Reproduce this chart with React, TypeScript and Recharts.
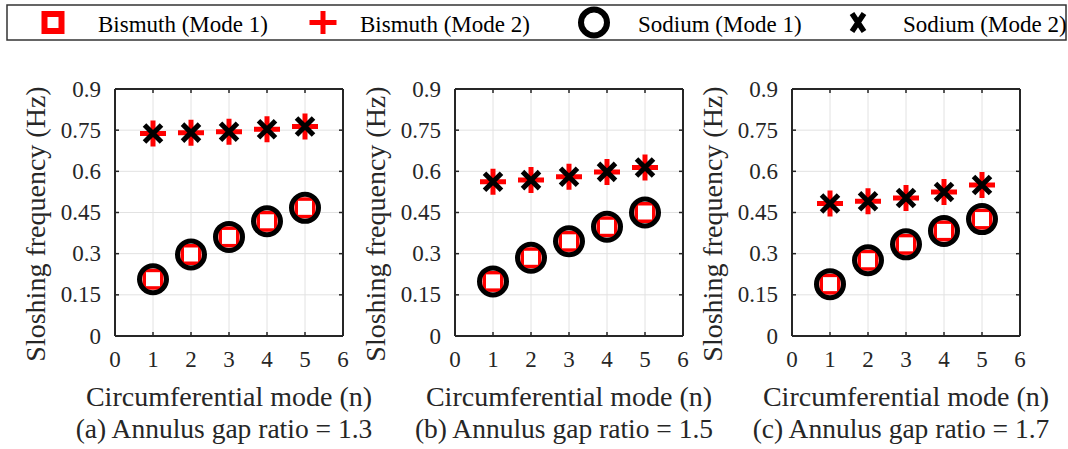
import { ScatterChart, Scatter, XAxis, YAxis, CartesianGrid } from 'recharts';

const FONT = "'Liberation Serif', 'DejaVu Serif', serif";
const INK = '#262626';

// circumferential modes and axis ticks
const modes = [1, 2, 3, 4, 5];
const xTicks = [0, 1, 2, 3, 4, 5, 6];
const yTicks = [0, 0.15, 0.3, 0.45, 0.6, 0.75, 0.9];

// (a) gap ratio 1.3
const bismuthMode1A = [0.207, 0.297, 0.361, 0.418, 0.467];
const bismuthMode2A = [0.738, 0.741, 0.744, 0.753, 0.763];
const sodiumMode1A = [0.207, 0.297, 0.361, 0.418, 0.467];
const sodiumMode2A = [0.738, 0.741, 0.744, 0.753, 0.763];

// (b) gap ratio 1.5
const bismuthMode1B = [0.199, 0.285, 0.345, 0.398, 0.45];
const bismuthMode2B = [0.562, 0.568, 0.58, 0.598, 0.614];
const sodiumMode1B = [0.199, 0.285, 0.345, 0.398, 0.45];
const sodiumMode2B = [0.562, 0.568, 0.58, 0.598, 0.614];

// (c) gap ratio 1.7
const bismuthMode1C = [0.189, 0.276, 0.334, 0.383, 0.426];
const bismuthMode2C = [0.483, 0.491, 0.503, 0.525, 0.55];
const sodiumMode1C = [0.189, 0.276, 0.334, 0.383, 0.426];
const sodiumMode2C = [0.483, 0.491, 0.503, 0.525, 0.55];

const legendNames = ['Bismuth (Mode 1)', 'Bismuth (Mode 2)', 'Sodium (Mode 1)', 'Sodium (Mode 2)'];
const xLabel = 'Circumferential mode (n)';
const yLabel = 'Sloshing frequency (Hz)';
const captions = ['(a) Annulus gap ratio = 1.3', '(b) Annulus gap ratio = 1.5', '(c) Annulus gap ratio = 1.7'];

const toPoints = (vals: number[]) => modes.map((n, i) => ({ n, f: vals[i] }));

// markers
const Square = (p: any) => (
  <rect x={p.cx - 8.75} y={p.cy - 8.75} width={17.5} height={17.5} fill="#fff" stroke="#ff0000" strokeWidth={3.5} />
);
const Plus = (p: any) => (
  <path d={`M${p.cx - 13},${p.cy}H${p.cx + 13}M${p.cx},${p.cy - 13}V${p.cy + 13}`} stroke="#ff0000" strokeWidth={5} fill="none" />
);
const Ring = (p: any) => <circle cx={p.cx} cy={p.cy} r={13.5} fill="none" stroke="#000" strokeWidth={5} />;
const Cross = (p: any) => (
  <path
    d={`M${p.cx - 8.5},${p.cy - 8.5}L${p.cx + 8.5},${p.cy + 8.5}M${p.cx - 8.5},${p.cy + 8.5}L${p.cx + 8.5},${p.cy - 8.5}`}
    stroke="#000"
    strokeWidth={5}
    fill="none"
  />
);

const txt = (size: number) => ({ fontFamily: FONT, fontSize: size });

// ticks point inward, like matlab
const LeftTick = ({ x, y, payload }: any) => (
  <g>
    <line x1={x} y1={y} x2={x + 4} y2={y} stroke={INK} strokeWidth={1.5} />
    <text x={x - 14} y={y} dy="0.33em" textAnchor="end" fill={INK} style={txt(23)}>
      {String(payload.value)}
    </text>
  </g>
);
const RightTick = ({ x, y }: any) => <line x1={x} y1={y} x2={x - 4} y2={y} stroke={INK} strokeWidth={1.5} />;
const BottomTick = ({ x, y, payload }: any) => (
  <g>
    <line x1={x} y1={y} x2={x} y2={y - 4} stroke={INK} strokeWidth={1.5} />
    <text x={x} y={y + 31} textAnchor="middle" fill={INK} style={txt(23)}>
      {String(payload.value)}
    </text>
  </g>
);
const TopTick = ({ x, y }: any) => <line x1={x} y1={y} x2={x} y2={y + 4} stroke={INK} strokeWidth={1.5} />;

const PLOT_TOP = 89;
const PLOT_BOTTOM = 336;
const PLOT_W = 228;
const plotLefts = [115, 455, 792];

interface PanelProps {
  left: number;
  bis1: number[];
  bis2: number[];
  sod1: number[];
  sod2: number[];
}

function Panel({ left, bis1, bis2, sod1, sod2 }: PanelProps) {
  const axisLine = { stroke: INK, strokeWidth: 2 };
  return (
    <div style={{ position: 'absolute', left: left - 115, top: 0 }}>
      <ScatterChart width={360} height={449} margin={{ top: PLOT_TOP - 1, right: 16, bottom: 0, left: 0 }}>
        <CartesianGrid xAxisId="b" yAxisId="l" stroke="#e2e2e2" strokeWidth={1} />
        <XAxis xAxisId="b" dataKey="n" type="number" domain={[0, 6]} ticks={xTicks} height={449 - PLOT_BOTTOM}
          axisLine={axisLine} tickLine={false} tickSize={0} tickMargin={0} tick={BottomTick} interval={0} />
        <XAxis xAxisId="t" orientation="top" dataKey="n" type="number" domain={[0, 6]} ticks={xTicks} height={1}
          axisLine={axisLine} tickLine={false} tickSize={0} tickMargin={0} tick={TopTick} interval={0} />
        <YAxis yAxisId="l" dataKey="f" type="number" domain={[0, 0.9]} ticks={yTicks} width={115}
          axisLine={axisLine} tickLine={false} tickSize={0} tickMargin={0} tick={LeftTick} interval={0} />
        <YAxis yAxisId="r" orientation="right" dataKey="f" type="number" domain={[0, 0.9]} ticks={yTicks} width={1}
          axisLine={axisLine} tickLine={false} tickSize={0} tickMargin={0} tick={RightTick} interval={0} />
        <Scatter xAxisId="b" yAxisId="l" name={legendNames[0]} data={toPoints(bis1)} shape={Square} isAnimationActive={false} />
        <Scatter xAxisId="b" yAxisId="l" name={legendNames[1]} data={toPoints(bis2)} shape={Plus} isAnimationActive={false} />
        <Scatter xAxisId="b" yAxisId="l" name={legendNames[2]} data={toPoints(sod1)} shape={Ring} isAnimationActive={false} />
        <Scatter xAxisId="b" yAxisId="l" name={legendNames[3]} data={toPoints(sod2)} shape={Cross} isAnimationActive={false} />
        {/* keep the mirrored axes fed */}
        <Scatter xAxisId="t" yAxisId="r" data={toPoints(sod2)} shape={() => <g />} isAnimationActive={false} />
      </ScatterChart>
    </div>
  );
}

function Overlay() {
  const cy = 22.5;
  return (
    <svg width={1068} height={449} style={{ position: 'absolute', left: 0, top: 0, pointerEvents: 'none' }}>
      {/* legend box */}
      <rect x={7} y={5} width={1059} height={35} fill="#fff" stroke="#333" strokeWidth={1.5} />
      <rect x={44.5} y={cy - 8.5} width={17} height={17} fill="#fff" stroke="#ff0000" strokeWidth={6} />
      <path d={`M${309.5},${cy}H${336.5}M323,${cy - 11.5}V${cy + 11.5}`} stroke="#ff0000" strokeWidth={5} />
      <circle cx={594} cy={cy} r={13} fill="none" stroke="#000" strokeWidth={6} />
      <path d={`M${852},${cy - 9}L${864},${cy + 9}M${852},${cy + 9}L${864},${cy - 9}`} stroke="#000" strokeWidth={5.5} />
      {[98, 360, 638, 903].map((x, i) => (
        <text key={i} x={x} y={32} fill="#000" style={txt(23)}>
          {legendNames[i]}
        </text>
      ))}
      {plotLefts.map((pl, i) => (
        <g key={i}>
          <text
            x={pl - 70}
            y={224}
            transform={`rotate(-90 ${pl - 70} 224)`}
            textAnchor="middle"
            fill={INK}
            style={txt(28)}
          >
            {yLabel}
          </text>
          <text x={pl + PLOT_W / 2} y={406} textAnchor="middle" fill={INK} style={txt(28)}>
            {xLabel}
          </text>
          <text x={pl + PLOT_W / 2 - 5} y={438} textAnchor="middle" fill={INK} style={txt(27.5)}>
            {captions[i]}
          </text>
        </g>
      ))}
    </svg>
  );
}

export default function App() {
  return (
    <div style={{ position: 'absolute', left: 0, top: 0, width: 1068, height: 449, background: '#fff' }}>
      <Panel left={plotLefts[0]} bis1={bismuthMode1A} bis2={bismuthMode2A} sod1={sodiumMode1A} sod2={sodiumMode2A} />
      <Panel left={plotLefts[1]} bis1={bismuthMode1B} bis2={bismuthMode2B} sod1={sodiumMode1B} sod2={sodiumMode2B} />
      <Panel left={plotLefts[2]} bis1={bismuthMode1C} bis2={bismuthMode2C} sod1={sodiumMode1C} sod2={sodiumMode2C} />
      <Overlay />
    </div>
  );
}
